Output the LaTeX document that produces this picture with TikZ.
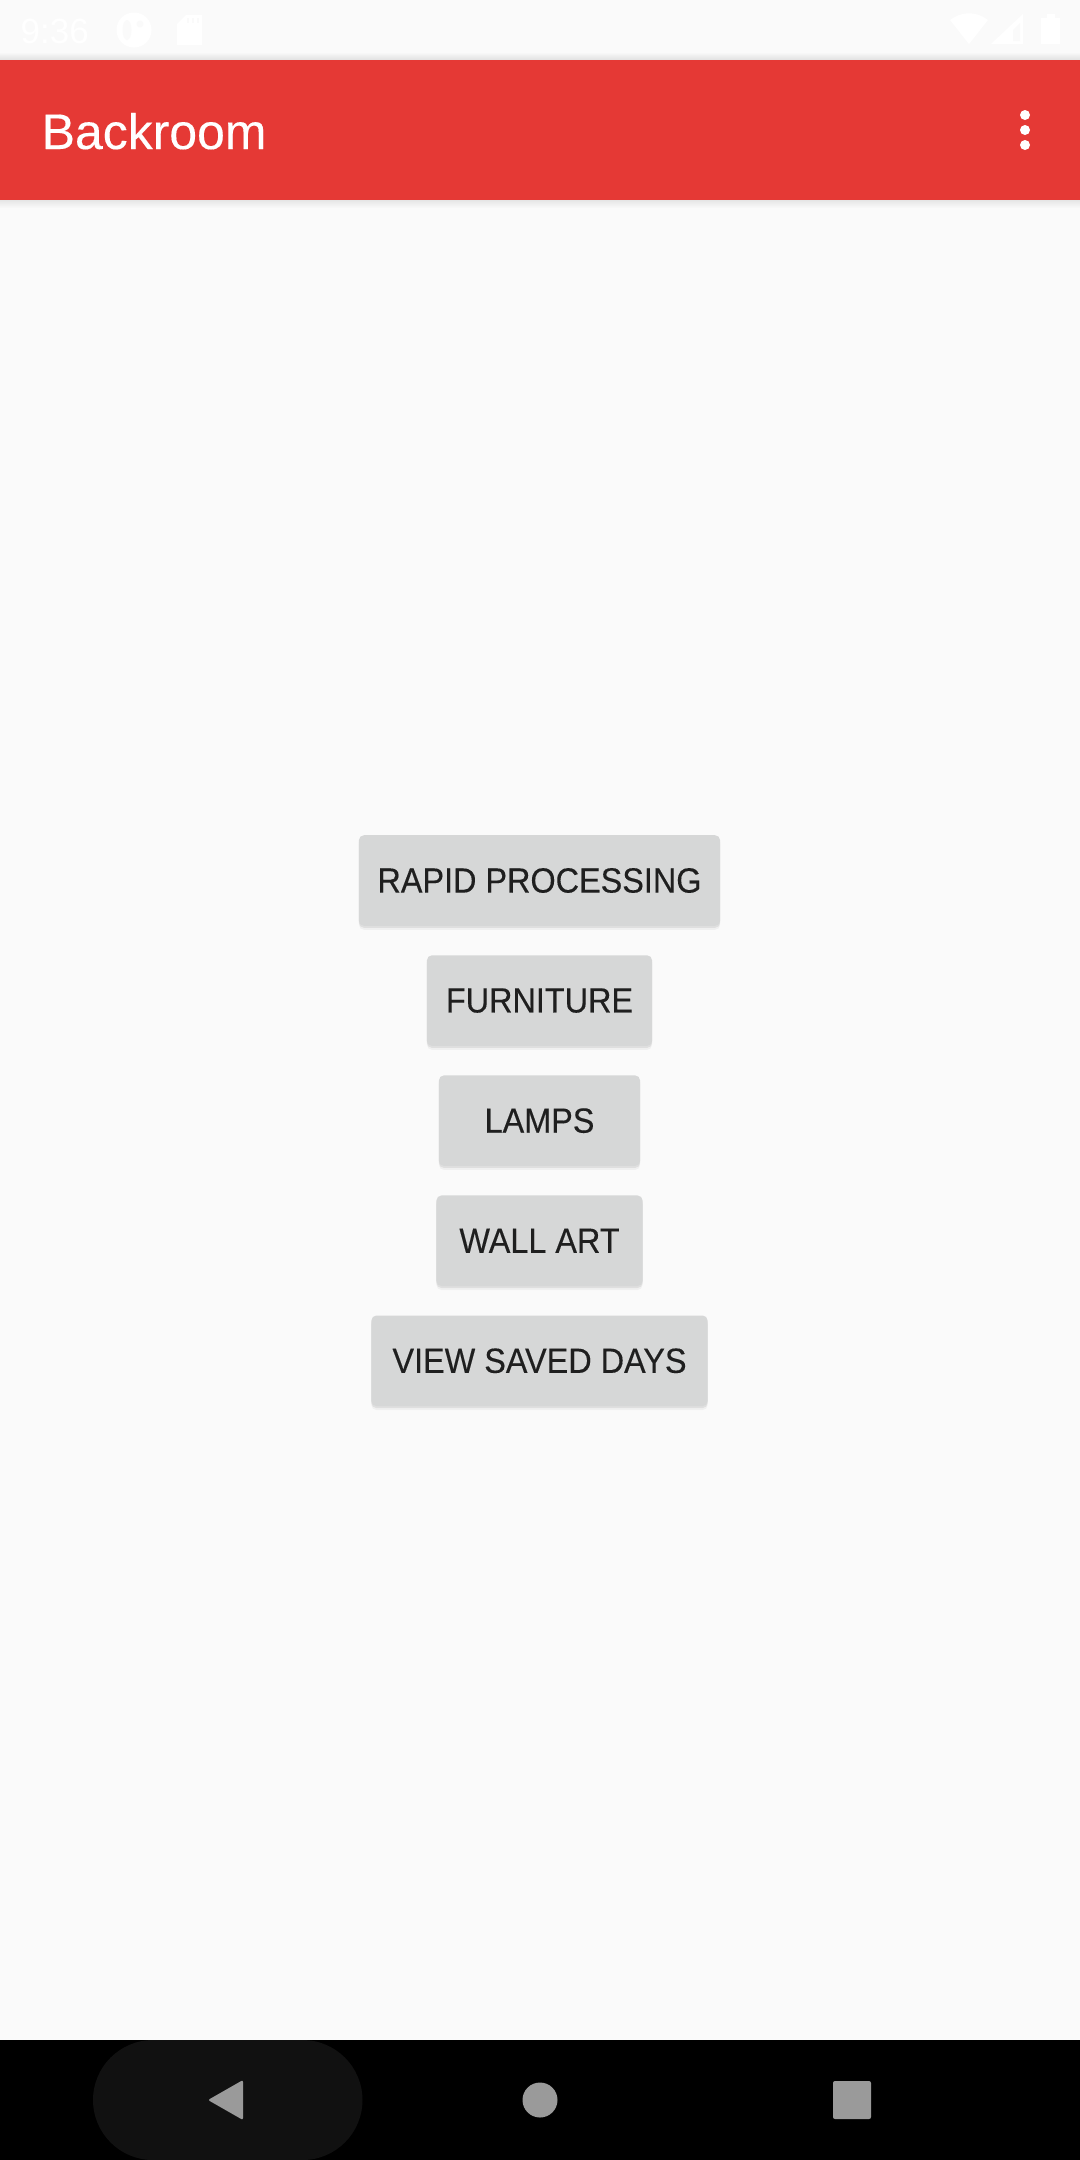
\documentclass[tikz,border=0pt]{standalone}
\usepackage{fontspec}
\setmainfont{Liberation Sans}
\newfontfamily\btnfont[FakeStretch=0.925,FakeBold=0.25]{Liberation Sans}
\newfontfamily\titlefont[FakeBold=0.25]{Liberation Sans}
\usetikzlibrary{positioning,shadows,arrows.meta,calc}
\definecolor{brPage}{HTML}{FAFAFA}
\definecolor{brRed}{HTML}{E53935}
\definecolor{brButton}{HTML}{D6D7D7}
\definecolor{brText}{HTML}{1F1F1F}
\definecolor{brPill}{HTML}{111111}
\definecolor{brNav}{HTML}{9A9A9A}
\tikzset{
  backbtn/.style={fill=brButton, text=brText, rounded corners=0.05cm, inner sep=0pt, outer sep=0pt,
    minimum height=0.905cm, font=\btnfont\fontsize{9.96pt}{12pt}\selectfont,
    drop shadow={shadow xshift=0pt, shadow yshift=-0.04cm, opacity=0.04, fill=black},
    drop shadow={shadow xshift=0pt, shadow yshift=-0.02cm, opacity=0.07, fill=black}},
  navicon/.style={fill=brNav, draw=none},
  staticon/.style={fill=white, draw=none}
}
\begin{document}
\begin{tikzpicture}[x=0.01cm, y=-0.01cm]
  \useasboundingbox (0,0) rectangle (1080,2160);
  \fill[brPage] (0,0) rectangle (1080,2160);

  % Status bar
  \node[anchor=base west, inner sep=0pt, text=white, font=\fontsize{9.96pt}{12pt}\selectfont] (clock) at (20,43) {9:36};
  \fill[staticon] (134,30) circle (17.5);
  \fill[brPage] (127,30) ellipse (4.5 and 10);
  \fill[brPage] (140,24) circle (3.5);
  \fill[staticon] (186,15) -- (202,15) -- (202,45) -- (177,45) -- (177,24) -- cycle;
  \foreach \x in {187,192,197}
    \fill[brPage] (\x,18) rectangle (\x+2,23);
  \fill[staticon] (950,20) .. controls (962,11) and (976,11) .. (988,20) -- (969,44) -- cycle;
  \fill[staticon] (991,44) -- (1023,14) -- (1023,44) -- cycle;
  \fill[brPage] (1013,41) -- (1013,30) -- (1020,23) -- (1020,41) -- cycle;
  \fill[staticon] (1041,18) -- (1047,18) -- (1047,14) -- (1055,14) -- (1055,18) -- (1060,18) -- (1060,44) -- (1041,44) -- cycle;

  % App bar
  \shade[top color=brPage, bottom color=black!12] (0,52) rectangle (1080,60);
  \shade[top color=black!10, bottom color=brPage] (0,200) rectangle (1080,208);
  \fill[brRed] (0,60) rectangle (1080,200);
  \node[anchor=base west, inner sep=0pt, text=white, font=\titlefont\fontsize{14.2pt}{17pt}\selectfont] (title) at (41,149) {Backroom};
  \foreach \y in {115,130,145}
    \fill[white] (1025,\y) circle (5);

  % Buttons
  \node[backbtn, minimum width=3.61cm] (rapid) at (539.5,880.5) {RAPID PROCESSING};
  \node[backbtn, minimum width=2.25cm, below=0.295cm of rapid] (furniture) {FURNITURE};
  \node[backbtn, minimum width=2.01cm, below=0.295cm of furniture] (lamps) {LAMPS};
  \node[backbtn, minimum width=2.06cm, below=0.295cm of lamps] (wallart) {WALL ART};
  \node[backbtn, minimum width=3.36cm, below=0.295cm of wallart] (saved) {VIEW SAVED DAYS};

  % Navigation bar
  \fill[black] (0,2040) rectangle (1080,2160);
  \fill[brPill, rounded corners=0.6cm] (93,2040) rectangle (362.5,2160);
  \fill[navicon, rounded corners=0.02cm] (243,2080) -- (243,2120) -- (208,2100) -- cycle;
  \fill[navicon] (540,2100) circle (17.5);
  \fill[navicon, rounded corners=0.02cm] (833,2081) rectangle (871,2119);
\end{tikzpicture}
\end{document}
